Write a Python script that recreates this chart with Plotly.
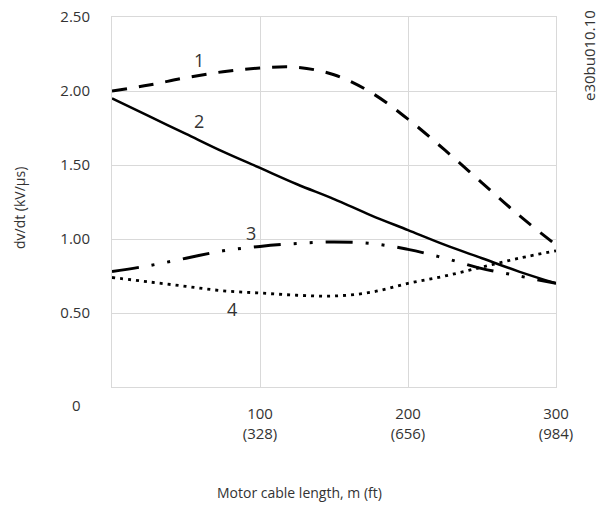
import plotly.graph_objects as go

# cable length, m
length_m = [0, 25, 50, 75, 100, 125, 150, 175, 200, 225, 250, 275, 300]

# dv/dt, kV/us
curve_1 = [2.00, 2.04, 2.09, 2.13, 2.155, 2.16, 2.11, 1.99, 1.81, 1.60, 1.38, 1.16, 0.96]
curve_2 = [1.95, 1.83, 1.71, 1.59, 1.48, 1.37, 1.27, 1.16, 1.06, 0.96, 0.87, 0.78, 0.70]
curve_3 = [0.78, 0.82, 0.87, 0.92, 0.95, 0.97, 0.98, 0.97, 0.93, 0.87, 0.80, 0.75, 0.70]
curve_4 = [0.74, 0.71, 0.68, 0.65, 0.635, 0.62, 0.615, 0.64, 0.70, 0.75, 0.81, 0.87, 0.92]

x_ticks = [100, 200, 300]
x_tick_text = ["100<br>(328)", "200<br>(656)", "300<br>(984)"]
y_ticks = [0.5, 1.0, 1.5, 2.0, 2.5]

curve_labels = ["1", "2", "3", "4"]
label_x = [59, 59, 94, 81]
label_y = [2.21, 1.80, 1.04, 0.53]

font = "Open Sans, Noto Sans, sans-serif"
ink = "#333333"

fig = go.Figure()
fig.add_trace(go.Scatter(x=length_m, y=curve_1, mode="lines", line_shape="spline",
                         line=dict(color="black", width=3, dash="15px,12px")))
fig.add_trace(go.Scatter(x=length_m, y=curve_2, mode="lines", line_shape="spline",
                         line=dict(color="black", width=2.5)))
fig.add_trace(go.Scatter(x=length_m, y=curve_3, mode="lines", line_shape="spline",
                         line=dict(color="black", width=3, dash="27px,13px,3px,13px,3px,13px")))
fig.add_trace(go.Scatter(x=length_m, y=curve_4, mode="lines", line_shape="spline",
                         line=dict(color="black", width=2.8, dash="3px,5px")))

for t, lx, ly in zip(curve_labels, label_x, label_y):
    fig.add_annotation(x=lx, y=ly, text=t, showarrow=False,
                       font=dict(size=18, color=ink, family=font))

# the lone zero at the corner
fig.add_annotation(xref="paper", yref="paper", x=-0.081, y=-0.049, text="0", showarrow=False,
                   xanchor="center", yanchor="middle", font=dict(size=15, color=ink, family=font))
fig.add_annotation(xref="paper", yref="paper", x=0.423, y=-0.286, text="Motor cable length, m (ft)",
                   xanchor="center", yanchor="middle", showarrow=False,
                   font=dict(size=14, color=ink, family=font))
fig.add_annotation(xref="paper", yref="paper", x=-0.207, y=0.484, text="dv/dt (kV/μs)",
                   xanchor="center", yanchor="middle", textangle=-90, showarrow=False,
                   font=dict(size=14, color=ink, family=font))
fig.add_annotation(xref="paper", yref="paper", x=1.103, y=1.025, yanchor="top", text="e30bu010.10",
                   textangle=-90, showarrow=False, font=dict(size=15, color=ink, family=font))

fig.update_layout(
    width=616, height=507,
    margin=dict(l=112, r=60, t=17, b=120),
    plot_bgcolor="white", paper_bgcolor="white",
    showlegend=False,
    font=dict(family=font, size=15, color=ink),
    xaxis=dict(range=[0, 300], tickvals=x_ticks, ticktext=x_tick_text,
               showgrid=True, gridcolor="#d9d9d9", gridwidth=1,
               showline=True, linecolor="#d9d9d9", mirror=True,
               ticks="", ticklabelstandoff=13, zeroline=False, automargin=False,
               ticklabeloverflow="allow"),
    yaxis=dict(range=[0, 2.5], tickvals=y_ticks, tickformat=".2f",
               showgrid=True, gridcolor="#d9d9d9", gridwidth=1,
               showline=True, linecolor="#d9d9d9", mirror=True,
               ticks="", ticklabelstandoff=18, zeroline=False, automargin=False,
               ticklabeloverflow="allow"),
)

# drop the default 8px page margin so the figure fills the window exactly
fig.write_html("out.html", config={"displayModeBar": False},
               post_script="document.body.style.margin='0';")
